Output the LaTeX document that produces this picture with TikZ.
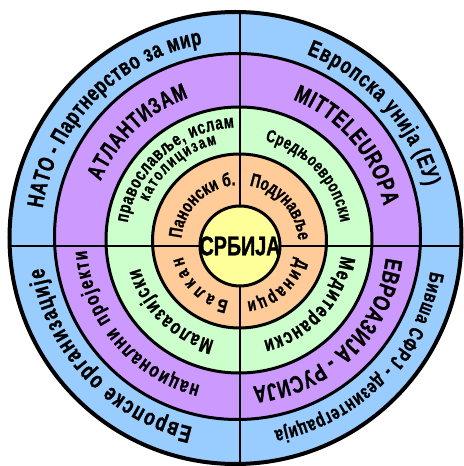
\documentclass[tikz,border=0pt]{standalone}
\usepackage{fontspec}
\setmainfont{Liberation Sans}[FakeStretch=0.73, BoldFeatures={FakeBold=1.2}]
\usetikzlibrary{decorations.text}

\definecolor{ringblue}{HTML}{99CCFF}
\definecolor{ringpurple}{HTML}{CC99FF}
\definecolor{ringgreen}{HTML}{CCFFCC}
\definecolor{ringorange}{HTML}{FFCC99}
\definecolor{ringyellow}{HTML}{FFFF99}

\newcommand{\fs}[1]{\fontsize{#1}{#1}\selectfont\bfseries}
\newcommand{\arctext}[5]{\path[curved={#5}] (#1) ++(#2:#4) arc[start angle=#2, end angle=#3, radius=#4];}

\begin{document}
\begin{tikzpicture}[x=0.5pt, y=0.5pt,
        rim/.style={draw=black, line width=1.5pt},
        cross/.style={draw=black, line width=1pt},
        curved/.style={decorate, decoration={text along path, text align={fit to path}, text={#1}}}]
        \fill[white] (-240,-220) rectangle (224,246);
        \coordinate (cb) at (-4.5,8);
        \coordinate (cp) at (-2.5,9.5);
        \coordinate (cg) at (-1,6);
        \coordinate (co) at (-0.5,5);
        \coordinate (cs) at (0,0);
        \coordinate (tb) at (-3.5,8.75);
        \coordinate (tp) at (-1.75,7.75);
        \coordinate (tg) at (-0.75,5.5);
        \coordinate (to) at (-0.25,2.5);

        \fill[ringblue] (cb) circle[radius=226];
        \fill[ringpurple] (cp) circle[radius=183];
        \fill[ringgreen] (cg) circle[radius=133];
        \fill[ringorange] (co) circle[radius=87];
        \begin{scope}
            \clip (cb) circle[radius=226];
            \draw[cross] (0,-230) -- (0,240);
            \draw[cross] (-240,0) -- (230,0);
        \end{scope}
        \draw[rim, line width=2pt] (cb) circle[radius=226];
        \draw[rim] (cp) circle[radius=183];
        \draw[rim] (cg) circle[radius=133];
        \draw[rim] (co) circle[radius=87];
        \filldraw[rim, fill=ringyellow] (cs) circle[radius=40];
        \node[font=\fs{13.5}] (srbija) at (cs) {СРБИЈА};

        \arctext{tb}{171.5}{100}{196}{|\fs{11.5}|НАТО - Партнерство за мир}
        \arctext{tb}{69}{15}{196}{|\fs{11.5}|Европска унија (ЕУ)}
        \arctext{tb}{257}{189}{195}{|\fs{12}|Европске организације}
        \arctext{tb}{-10}{-79}{197}{|\fs{10}|Бивша СФРЈ - дезинтеграција}

        \arctext{tp}{157.5}{109.5}{149}{|\fs{11.5}|АТЛАНТИЗАМ}
        \arctext{tp}{68.5}{12.5}{149}{|\fs{12}|MITTELEUROPA}
        \arctext{tp}{255.5}{184.5}{152}{|\fs{10.5}|национални пројекти}
        \arctext{tp}{-7.5}{-84.5}{149}{|\fs{12}|ЕВРОАЗИЈА - РУСИЈА}

        \arctext{tg}{171}{92.5}{113}{|\fs{9.3}|православље, ислам}
        \arctext{tg}{157}{103}{99}{|\fs{8.3}|католицизам}
        \arctext{tg}{75.5}{10}{103}{|\fs{8.8}|Средњоевропски}
        \arctext{tg}{256}{195.5}{103}{|\fs{10.5}|Малоазијски}
        \arctext{tg}{-8.5}{-76.5}{103}{|\fs{10.5}|Медитерански}

        \arctext{to}{175}{94}{58.5}{|\fs{9.3}|Панонски б.}
        \arctext{to}{80.5}{5.5}{58.5}{|\fs{9.3}|Подунавље}
        \arctext{to}{259}{193}{58.5}{|\fs{9.3}|Балкан}
        \arctext{to}{-14}{-83}{58.5}{|\fs{9.3}|Динарци}
    \end{tikzpicture}
\end{document}
